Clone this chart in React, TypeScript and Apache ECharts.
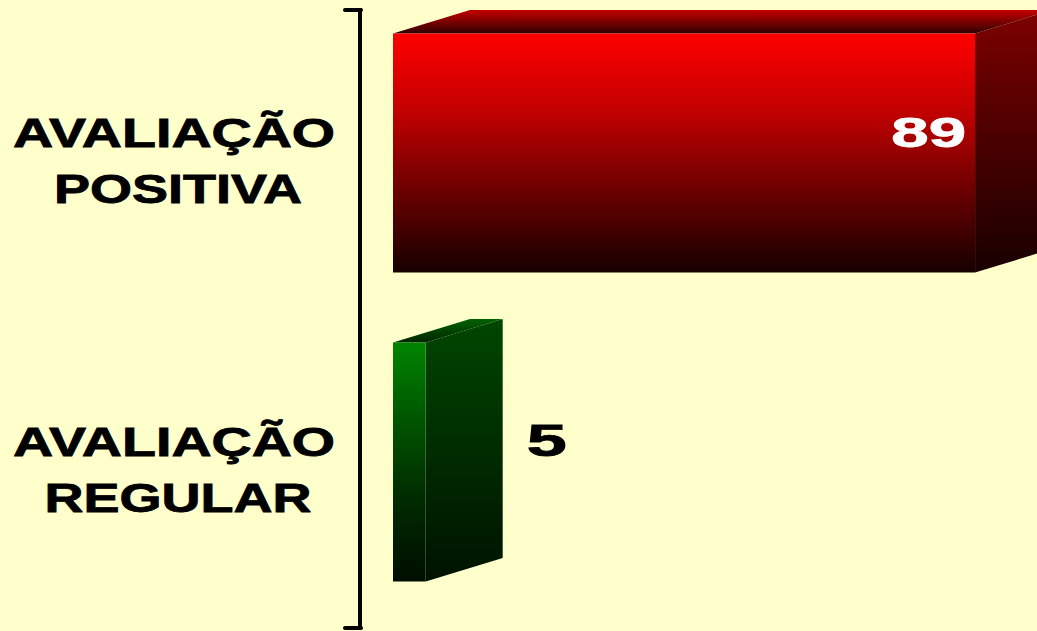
import React, { useEffect, useRef } from "react";
import * as echarts from "echarts";

const categories = ["AVALIAÇÃO\nPOSITIVA", "AVALIAÇÃO\nREGULAR"];
const values = [89, 5];

const palettes = [
  {
    front: ["#FF0000", "#C00000", "#6A0000", "#160000"],
    side: ["#7E0000", "#4A0000", "#180000"],
    top: ["#C40000", "#300000"],
  },
  {
    front: ["#008400", "#005400", "#002A00", "#000E00"],
    side: ["#004600", "#002C00", "#001200"],
    top: ["#006200", "#002400"],
  },
];

const DX = 77;
const DY = -23.5;
const FONT = "'Liberation Sans', Arial, Helvetica, sans-serif";

function grad(stops: string[]) {
  return new echarts.graphic.LinearGradient(
    0,
    0,
    0,
    1,
    stops.map((color, i) => ({ offset: i / (stops.length - 1), color }))
  );
}

function renderItem(params: any, api: any) {
  const idx = params.dataIndex;
  const v = api.value(0);
  const c = api.value(1);
  const p0 = api.coord([0, c]);
  const p1 = api.coord([v, c]);
  const cy = p0[1];
  const top = cy - 131;
  const bottom = cy + 108;
  const x0 = p0[0];
  const x1 = p1[0];
  const pal = palettes[idx % palettes.length];
  const lines = categories[idx].split("\n");
  const inside = x1 - x0 > 150;
  const labelStyle = (text: string) => ({
    text,
    fontSize: 40,
    fontWeight: "bold",
    fontFamily: FONT,
    fill: "#000000",
    stroke: "#000000",
    lineWidth: 0.8,
    align: "center",
    verticalAlign: "middle",
  });
  const children: any[] = [
    {
      type: "polygon",
      shape: {
        points: [
          [x1, top],
          [x1 + DX, top + DY],
          [x1 + DX, bottom + DY],
          [x1, bottom],
        ],
      },
      style: { fill: grad(pal.side) },
    },
    {
      type: "polygon",
      shape: {
        points: [
          [x0, top],
          [x1, top],
          [x1 + DX, top + DY],
          [x0 + DX, top + DY],
        ],
      },
      style: { fill: grad(pal.top) },
    },
    {
      type: "rect",
      shape: { x: x0, y: top, width: x1 - x0, height: bottom - top },
      style: { fill: grad(pal.front) },
    },
    {
      type: "text",
      x: inside ? x1 - 9 : x1 + 101,
      y: cy - 32.5,
      scaleX: 1.6,
      style: {
        text: String(v),
        fontSize: inside ? 42 : 45,
        fontWeight: "bold",
        fontFamily: FONT,
        fill: inside ? "#FFFFFF" : "#000000",
        stroke: inside ? "#FFFFFF" : "#000000",
        lineWidth: 0.8,
        align: inside ? "right" : "left",
        verticalAlign: "middle",
      },
    },
    {
      type: "text",
      x: 174,
      y: cy - 31.5,
      scaleX: 1.39,
      style: labelStyle(lines[0]),
    },
    {
      type: "text",
      x: 178,
      y: cy + 24.5,
      scaleX: 1.35,
      style: labelStyle(lines[1] || ""),
    },
  ];
  return { type: "group", children };
}

export default function App() {
  const ref = useRef<HTMLDivElement>(null);
  useEffect(() => {
    if (!ref.current) return;
    const chart = echarts.init(ref.current, undefined, { renderer: "svg" });
    chart.setOption({
      animation: false,
      backgroundColor: "#FFFFCC",
      grid: { left: 393, right: 22.7, top: 10, bottom: 3 },
      xAxis: {
        type: "value",
        min: 0,
        max: 95,
        show: false,
      },
      yAxis: {
        type: "category",
        inverse: true,
        data: categories,
        offset: 33.5,
        axisLine: {
          show: true,
          onZero: false,
          lineStyle: { color: "#000000", width: 4 },
        },
        axisTick: { show: false },
        axisLabel: { show: false },
        splitLine: { show: false },
      },
      graphic: [
        {
          type: "line",
          shape: { x1: 345, y1: 10, x2: 361, y2: 10 },
          style: { stroke: "#000000", lineWidth: 4, lineCap: "round" },
        },
        {
          type: "line",
          shape: { x1: 345, y1: 628, x2: 361, y2: 628 },
          style: { stroke: "#000000", lineWidth: 4, lineCap: "round" },
        },
      ],
      series: [
        {
          type: "custom",
          renderItem,
          clip: false,
          encode: { x: 0, y: 1 },
          data: values.map((v, i) => [v, i]),
        },
      ],
    });
    return () => chart.dispose();
  }, []);
  return (
    <div
      ref={ref}
      style={{ position: "fixed", left: 0, top: 0, width: 1037, height: 631 }}
    />
  );
}
